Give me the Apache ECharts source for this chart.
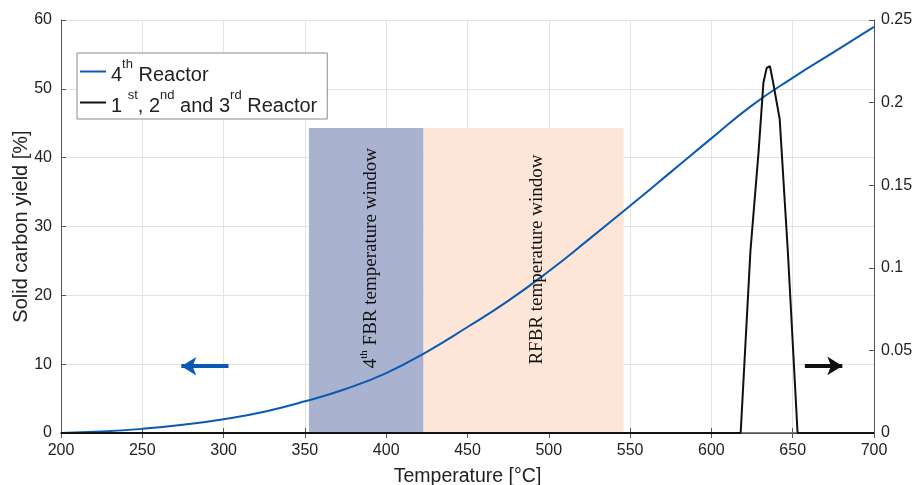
<!DOCTYPE html>
<html><head><meta charset="utf-8">
<script src="https://cdn.jsdelivr.net/npm/echarts@6/dist/echarts.min.js"></script>
<style>html,body{margin:0;padding:0;background:#fff}#c{width:917px;height:485px}</style>
</head><body><div id="c"></div>
<script>
// Data
const temps4 = [200,225,250,275,300,325,350,375,400,425,450,475,500,525,550,575,600,625,650,675,700];
const yield4 = [0,0.2,0.6,1.2,2.0,3.1,4.6,6.4,8.7,11.8,15.4,19.2,23.5,28.2,33.0,37.9,42.8,47.6,51.6,55.3,59.0];
const temps123 = [200,618,624,629,632,634,636,638,642,647,653,700];
const yield123 = [0,0,0.11,0.17,0.212,0.221,0.222,0.212,0.19,0.11,0,0];
const xTicks = [200,250,300,350,400,450,500,550,600,650,700];
const fbrWindow = [352.5, 423, 44.3];
const rfbrWindow = [423, 546, 44.3];
const seriesNames = ['4th Reactor', '1st, 2nd and 3rd Reactor'];

const chart = echarts.init(document.getElementById('c'));
const FONT = 'Liberation Sans, Arial, sans-serif';
const axisCol = '#555';
const legendFmt = {
  '4th Reactor': '{n|4}{s|th}{n| Reactor}',
  '1st, 2nd and 3rd Reactor': '{n|1 }{s|st}{n|, 2}{s|nd}{n| and 3}{s|rd}{n| Reactor}'
};
const option = {
  animation: false,
  grid: {left: 61, right: 43, top: 20, bottom: 52, containLabel: false, outerBoundsMode: 'none'},
  legend: {
    orient: 'vertical', left: 77, top: 53,
    backgroundColor: '#fff', borderColor: '#8a8a8a', borderWidth: 1,
    padding: [5, 10, 3, 3], itemGap: 4, itemWidth: 26, itemHeight: 2, icon: 'rect',
    data: seriesNames,
    formatter: n => legendFmt[n],
    textStyle: {
      fontFamily: FONT, color: '#222',
      rich: {
        n: {fontSize: 20, fontFamily: FONT, color: '#222', lineHeight: 27, verticalAlign: 'bottom'},
        s: {fontSize: 13, fontFamily: FONT, color: '#222', lineHeight: 27, verticalAlign: 'top'}
      }
    }
  },
  xAxis: [{
    type: 'value', min: 200, max: 700, interval: 50,
    name: 'Temperature [°C]', nameLocation: 'middle', nameGap: 34,
    nameTextStyle: {fontFamily: FONT, fontSize: 19.5, color: '#222'},
    axisLine: {lineStyle: {color: axisCol, width: 1.5}},
    axisTick: {inside: true, length: 5, lineStyle: {color: axisCol}},
    axisLabel: {fontFamily: FONT, fontSize: 16, color: '#222', margin: 10},
    splitLine: {show: true, lineStyle: {color: '#e3e3e3'}}
  }, {
    type: 'value', min: 200, max: 700, interval: 50, position: 'top',
    axisLine: {lineStyle: {color: axisCol}},
    axisTick: {inside: true, length: 5, lineStyle: {color: axisCol}},
    axisLabel: {show: false}, splitLine: {show: false}
  }],
  yAxis: [{
    type: 'value', min: 0, max: 60, interval: 10,
    name: 'Solid carbon yield [%]', nameLocation: 'middle', nameGap: 30, nameMoveOverlap: false,
    nameTextStyle: {fontFamily: FONT, fontSize: 20, color: '#222'},
    axisLine: {show: true, lineStyle: {color: axisCol}},
    axisTick: {show: true, inside: true, length: 5, lineStyle: {color: axisCol}},
    axisLabel: {fontFamily: FONT, fontSize: 16, color: '#222', margin: 9},
    splitLine: {show: true, lineStyle: {color: '#e3e3e3'}}
  }, {
    type: 'value', min: 0, max: 0.25, interval: 0.05, position: 'right',
    axisLine: {show: true, lineStyle: {color: axisCol}},
    axisTick: {show: true, inside: true, length: 5, lineStyle: {color: axisCol}},
    axisLabel: {fontFamily: FONT, fontSize: 16, color: '#222', margin: 7},
    splitLine: {show: false}
  }],
  series: [{
    type: 'line', name: 'bands', data: [], z: 1, silent: true,
    markArea: {
      silent: true,
      data: [
        [{xAxis: fbrWindow[0], yAxis: 0, itemStyle: {color: '#a9b2ce'}}, {xAxis: fbrWindow[1], yAxis: fbrWindow[2]}],
        [{xAxis: rfbrWindow[0], yAxis: 0, itemStyle: {color: '#fde5d8'}}, {xAxis: rfbrWindow[1], yAxis: rfbrWindow[2]}]
      ]
    }
  }, {
    type: 'line', name: seriesNames[0], z: 4,
    data: temps4.map((t, i) => [t, yield4[i]]),
    smooth: true, showSymbol: false, symbol: 'none',
    lineStyle: {color: '#0a5ab4', width: 2}, itemStyle: {color: '#0a5ab4'},
    markLine: {
      silent: true, symbol: ['none', 'arrow'], symbolSize: [14, 15],
      label: {show: false},
      lineStyle: {color: '#0a5ab4', width: 4, type: 'solid'},
      data: [[{coord: [303, 9.7]}, {coord: [274, 9.7]}]]
    }
  }, {
    type: 'line', name: seriesNames[1], yAxisIndex: 1, z: 5,
    data: temps123.map((t, i) => [t, yield123[i]]),
    showSymbol: false, symbol: 'none',
    lineStyle: {color: '#111', width: 2}, itemStyle: {color: '#111'},
    markLine: {
      silent: true, symbol: ['none', 'arrow'], symbolSize: [14, 15],
      label: {show: false},
      lineStyle: {color: '#111', width: 4, type: 'solid'},
      data: [[{coord: [657.5, 0.0406]}, {coord: [680.5, 0.0406]}]]
    }
  }]
};
chart.setOption(option);

const SERIF = 'Liberation Serif, Times New Roman, serif';
const p1 = chart.convertToPixel({xAxisIndex: 0, yAxisIndex: 0}, [390, 25.4]);
const p2 = chart.convertToPixel({xAxisIndex: 0, yAxisIndex: 0}, [492, 25.2]);
const richLbl = {
  n: {fontSize: 19, fontFamily: SERIF, fill: '#111', color: '#111', lineHeight: 22, verticalAlign: 'bottom'},
  s: {fontSize: 11, fontFamily: SERIF, fill: '#111', color: '#111', lineHeight: 22, verticalAlign: 'top'}
};
chart.setOption({
  graphic: [{
    type: 'text', x: p1[0], y: p1[1], rotation: Math.PI / 2, z: 10,
    style: {text: '{n|4}{s|th}{n| FBR temperature window}', rich: richLbl, align: 'center', verticalAlign: 'middle', fill: '#111'}
  }, {
    type: 'text', x: p2[0], y: p2[1], rotation: Math.PI / 2, z: 10,
    style: {text: '{n|RFBR temperature window}', rich: richLbl, align: 'center', verticalAlign: 'middle', fill: '#111'}
  }]
});
</script></body></html>
